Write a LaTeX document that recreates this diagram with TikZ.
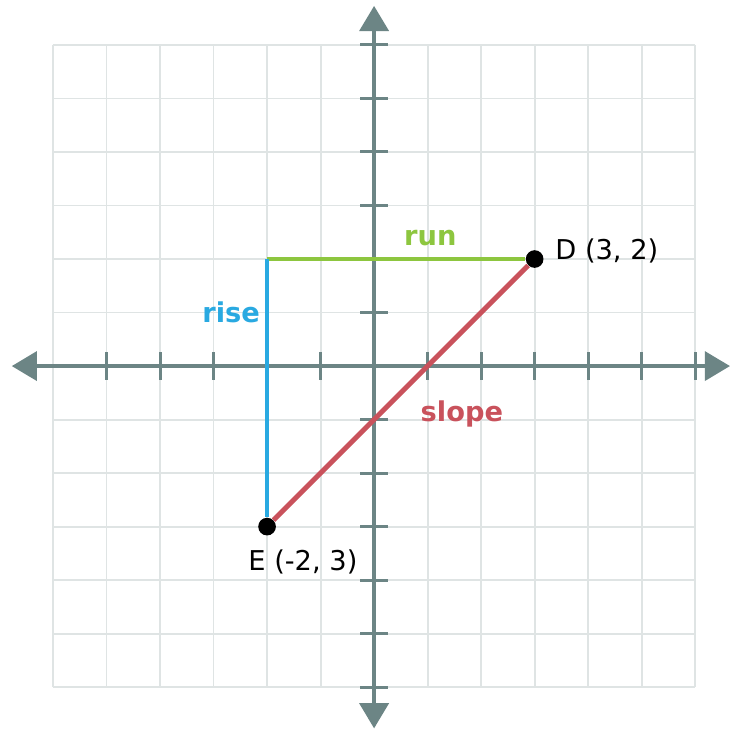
\documentclass[tikz,border=0pt]{standalone}
\usepackage{fontspec}
\setmainfont{DejaVu Sans}
\usetikzlibrary{arrows.meta}
\definecolor{axisgray}{HTML}{6C8585}
\definecolor{gridgray}{HTML}{DFE4E4}
\definecolor{rungreen}{HTML}{8DC63F}
\definecolor{riseblue}{HTML}{29A9E1}
\definecolor{slopered}{HTML}{C9525C}
\tikzset{
  axis/.style={draw=axisgray, line width=2.1pt, {Triangle[length=0.47cm,width=0.54cm]}-{Triangle[length=0.47cm,width=0.54cm]}},
  tick/.style={draw=axisgray, line width=1.6pt},
  dot/.style={circle, fill=black, inner sep=0pt, minimum size=0.33cm},
  lbl/.style={font=\fontsize{14.5}{16}\selectfont, inner sep=0pt},
  bold lbl/.style={lbl, font=\fontsize{14.5}{16}\selectfont\bfseries}
}
\begin{document}
\begin{tikzpicture}[x=1cm,y=1cm]
\useasboundingbox[fill=white] (-6.99,-6.79) rectangle (6.65,6.84);
\draw[gridgray, line width=1pt] (-6,-6) grid (6,6);
\coordinate (xl) at (-6.77,0);
\coordinate (xr) at (6.65,0);
\coordinate (yb) at (0,-6.77);
\coordinate (yt) at (0,6.73);
\draw[axis] (xl) -- (xr);
\draw[axis] (yb) -- (yt);
\foreach \i in {-5,...,-1,1,2,...,6}
  \draw[tick] (\i,-0.26) -- (\i,0.26);
\foreach \i in {-6,...,-1,1,2,...,6}
  \draw[tick] (-0.26,\i) -- (0.26,\i);
\coordinate (c) at (-2,2);
\node[dot] (D) at (3,2) {};
\node[dot] (E) at (-2,-3) {};
\draw[rungreen, line width=2.6pt] (c) -- (D);
\draw[riseblue, line width=2.2pt] (c) -- (E);
\draw[slopered, line width=2.6pt] (E) -- (D);
\node[bold lbl, text=rungreen] (run) at (1.05,2.4) {run};
\node[bold lbl, text=riseblue] (rise) at (-2.67,1.0) {rise};
\node[bold lbl, text=slopered] (slope) at (1.64,-0.9) {slope};
\node[lbl, anchor=west] (Dlbl) at (3.38,2.16) {D (3, 2)};
\node[lbl] (Elbl) at (-1.33,-3.66) {E (-2, 3)};
\end{tikzpicture}
\end{document}
